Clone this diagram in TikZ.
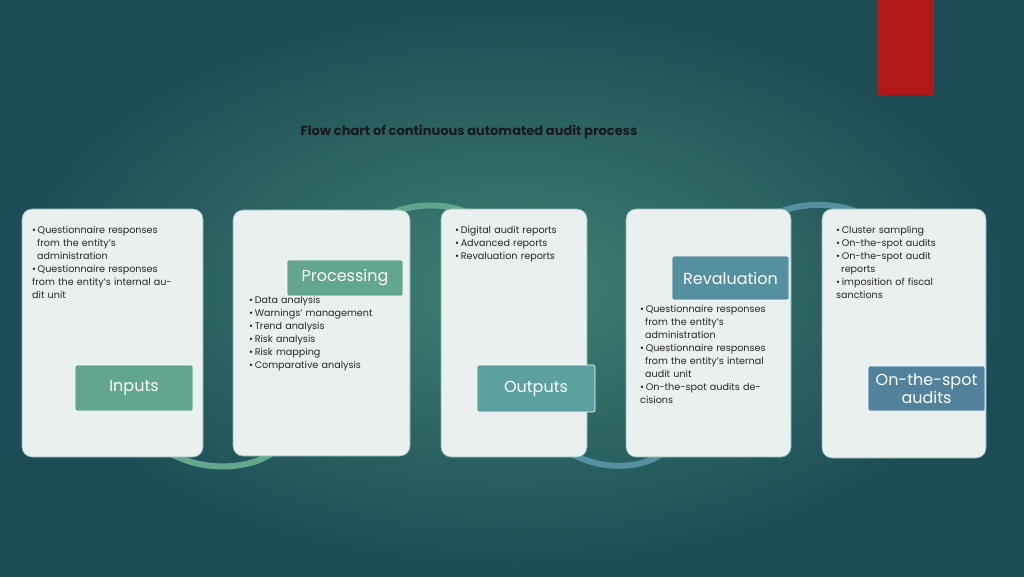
\documentclass[tikz,border=0pt]{standalone}
\usepackage{fontspec}
\setmainfont{Poppins}
\usetikzlibrary{positioning}
\definecolor{bgIn}{RGB}{64,128,114}
\definecolor{bgOut}{RGB}{28,76,86}
\definecolor{cardFill}{RGB}{234,239,239}
\definecolor{cardLine}{RGB}{130,185,175}
\definecolor{greenLab}{RGB}{98,166,142}
\definecolor{tealLab}{RGB}{92,160,160}
\definecolor{blueLab}{RGB}{84,144,160}
\definecolor{slateLab}{RGB}{80,130,156}
\definecolor{redBar}{RGB}{178,24,24}
\newcommand{\itm}[1]{\par\hyphenpenalty=10000\relax\hangindent=5pt\hangafter=1\noindent\textbullet\,#1}
\tikzset{
  card/.style={draw=cardLine,line width=0.6pt,fill=cardFill,rounded corners=10pt,inner sep=0pt},
  lab/.style={draw=white,line width=0.6pt,rounded corners=2pt,text=white,
    font=\fontsize{16}{18}\selectfont,align=center,inner sep=0pt},
  blist/.style={anchor=north west,align=left,inner sep=0pt,
    font=\fontsize{9.6}{13}\selectfont,text=black!85},
  loop/.style={line width=6pt,line cap=round}
}
\begin{document}
\begin{tikzpicture}[x=1pt,y=1pt]
% background
\shade[inner color=bgIn,outer color=bgOut] (0,0) rectangle (1024,576);
\useasboundingbox (0,0) rectangle (1024,576);
\fill[redBar] (877,481) rectangle (934,576);
\node[font=\bfseries\fontsize{13}{15}\selectfont,text=black!90] (title) at (469,444) {Flow chart of continuous automated audit process};

% loops behind the cards
\coordinate (l1a) at (130,166);
\coordinate (l1b) at (275,125);
\coordinate (l2a) at (345,316);
\coordinate (l2b) at (470,362);
\coordinate (l3a) at (535,165);
\coordinate (l3b) at (668,128);
\coordinate (l4a) at (730,320);
\coordinate (l4b) at (862,362);
\draw[loop,greenLab] (l1a) .. controls (160,100) and (245,100) .. (l1b);
\draw[loop,greenLab] (l2a) .. controls (370,376) and (440,378) .. (l2b);
\draw[loop,blueLab] (l3a) .. controls (560,100) and (645,100) .. (l3b);
\draw[loop,blueLab] (l4a) .. controls (760,378) and (830,378) .. (l4b);

% cards
\node[card,minimum width=181pt,minimum height=248pt] (c1) at (112.5,243) {};
\node[card,minimum width=177pt,minimum height=246pt] (c2) at (321.5,243) {};
\node[card,minimum width=146pt,minimum height=248pt] (c3) at (514,243) {};
\node[card,minimum width=165pt,minimum height=248pt] (c4) at (708.5,243) {};
\node[card,minimum width=164pt,minimum height=249pt] (c5) at (904,242.5) {};

% bullet lists
\node[blist,text width=150pt] (t1) at (32,356) {\itm{Questionnaire responses from the entity's administration}\itm{Questionnaire responses from the entity's internal audit unit}};
\node[blist,text width=150pt] (t2) at (249,286) {\itm{Data analysis}\itm{Warnings' management}\itm{Trend analysis}\itm{Risk analysis}\itm{Risk mapping}\itm{Comparative analysis}};
\node[blist,text width=125pt] (t3) at (455,356) {\itm{Digital audit reports}\itm{Advanced reports}\itm{Revaluation reports}};
\node[blist,text width=128pt] (t4) at (640,277) {\itm{Questionnaire responses from the entity's administration}\itm{Questionnaire responses from the entity's internal audit unit}\itm{On-the-spot audits decisions}};
\node[blist,text width=118pt] (t5) at (836,356) {\itm{Cluster sampling}\itm{On-the-spot audits}\itm{On-the-spot audit reports}\itm{imposition of fiscal sanctions}};

% stage labels
\node[lab,fill=greenLab,minimum width=118pt,minimum height=46pt] (in) at (134,188) {Inputs};
\node[lab,fill=greenLab,minimum width=116pt,minimum height=36pt] (proc) at (345,298) {Processing};
\node[lab,fill=tealLab,minimum width=118pt,minimum height=47pt] (out) at (536,187.5) {Outputs};
\node[lab,fill=blueLab,minimum width=117pt,minimum height=44pt] (reval) at (730.5,298) {Revaluation};
\node[lab,fill=slateLab,minimum width=117pt,minimum height=45pt] (spot) at (926.5,187.5) {On-the-spot\\audits};
\end{tikzpicture}
\end{document}
